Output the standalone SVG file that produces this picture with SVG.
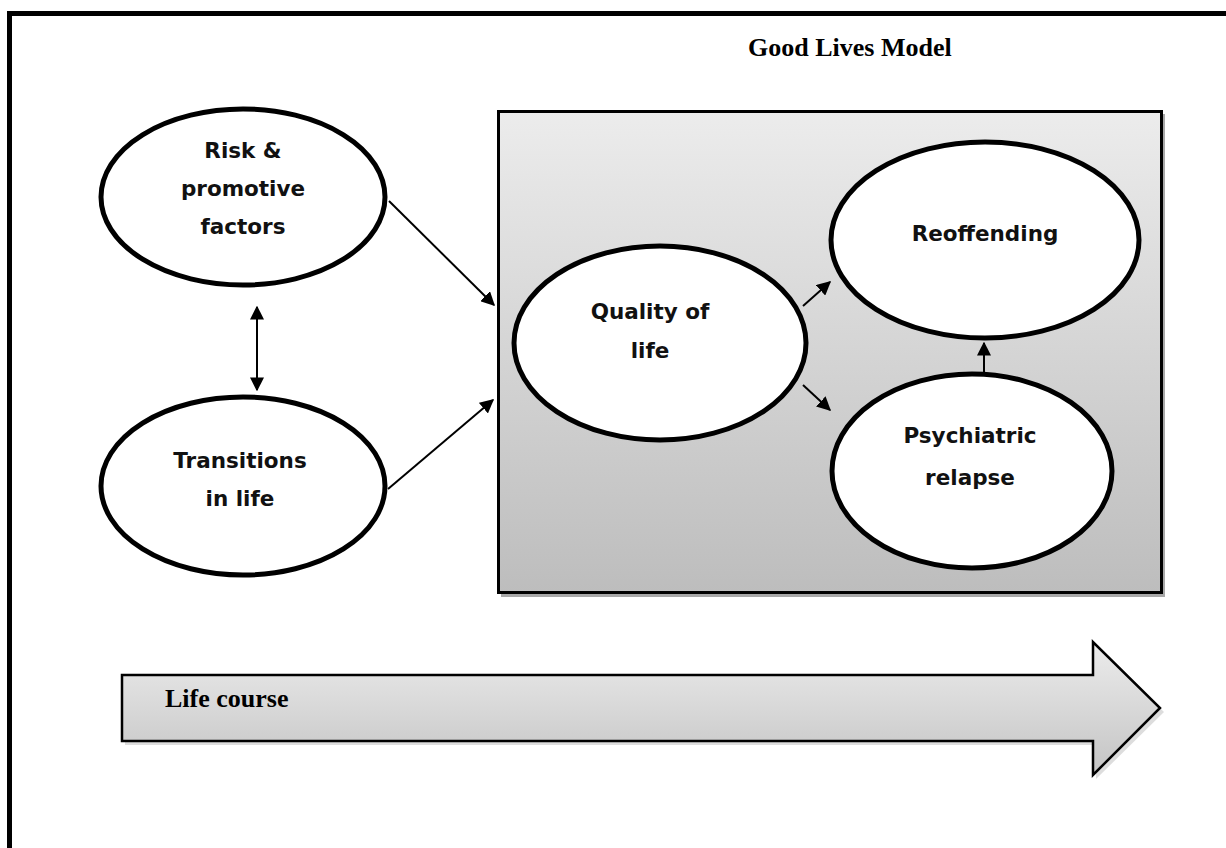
<svg xmlns="http://www.w3.org/2000/svg" width="1226" height="848" viewBox="0 0 1226 848">
<defs>
<linearGradient id="boxGrad" x1="0" y1="0" x2="0" y2="1">
<stop offset="0" stop-color="#ececec"/>
<stop offset="1" stop-color="#bdbdbd"/>
</linearGradient>
<linearGradient id="arrowGrad" x1="0" y1="0" x2="0" y2="1">
<stop offset="0" stop-color="#ececec"/>
<stop offset="1" stop-color="#c4c4c4"/>
</linearGradient>
<marker id="ahL" viewBox="0 0 10 10" refX="9" refY="5" markerWidth="14" markerHeight="14" markerUnits="userSpaceOnUse" orient="auto-start-reverse">
<path d="M0,0 L10,5 L0,10 Z" fill="#000"/>
</marker>
</defs>
<style>
.node{fill:#fff;stroke:#000;stroke-width:5}
.lbl{font-family:"DejaVu Sans",Verdana,sans-serif;font-weight:bold;font-size:21.5px;fill:#111;text-anchor:middle}
.ser{font-family:"Liberation Serif","Times New Roman",serif;font-weight:bold;font-size:26px;fill:#000}
.con{stroke:#000;stroke-width:2;fill:none}
</style>
<rect x="0" y="0" width="1226" height="848" fill="#fff"/>
<rect x="9.5" y="13.5" width="1240" height="860" fill="none" stroke="#000" stroke-width="5"/>
<text class="ser" x="748" y="56">Good Lives Model</text>
<g id="box">
<rect x="501" y="114" width="664" height="483" fill="#a8a8a8"/>
<rect x="498.5" y="111.5" width="663" height="481" fill="url(#boxGrad)" stroke="#000" stroke-width="3"/>
</g>
<g id="lifecourse">
<path d="M125,679 H1096 V646 L1164,712 L1096,779 V745 H125 Z" fill="#bbb" opacity="0.5"/>
<path d="M122,675 H1093 V642 L1160,708 L1093,775 V741 H122 Z" fill="url(#arrowGrad)" stroke="#000" stroke-width="2.5" stroke-linejoin="miter"/>
<text class="ser" x="165" y="707">Life course</text>
</g>
<g id="risk">
<ellipse class="node" cx="243" cy="197" rx="142" ry="88"/>
<text class="lbl" x="243" y="158">Risk &amp;</text>
<text class="lbl" x="243" y="196">promotive</text>
<text class="lbl" x="243" y="234">factors</text>
</g>
<g id="transitions">
<ellipse class="node" cx="243" cy="486" rx="142" ry="89"/>
<text class="lbl" x="240" y="468">Transitions</text>
<text class="lbl" x="240" y="506">in life</text>
</g>
<g id="quality">
<ellipse class="node" cx="660" cy="343" rx="146" ry="97"/>
<text class="lbl" x="650" y="319">Quality of</text>
<text class="lbl" x="650" y="358">life</text>
</g>
<g id="reoffending">
<ellipse class="node" cx="985" cy="240" rx="154" ry="98"/>
<text class="lbl" x="985" y="241">Reoffending</text>
</g>
<g id="psychiatric">
<ellipse class="node" cx="972" cy="471" rx="140" ry="97"/>
<text class="lbl" x="970" y="443">Psychiatric</text>
<text class="lbl" x="970" y="485">relapse</text>
</g>
<g id="connectors">
<line class="con" x1="389" y1="201" x2="494" y2="305" marker-end="url(#ahL)"/>
<line class="con" x1="388" y1="489" x2="493" y2="400" marker-end="url(#ahL)"/>
<line class="con" x1="257" y1="307" x2="257" y2="390" marker-start="url(#ahL)" marker-end="url(#ahL)"/>
<line class="con" x1="803" y1="306" x2="830" y2="282" marker-end="url(#ahL)"/>
<line class="con" x1="803" y1="385" x2="830" y2="410" marker-end="url(#ahL)"/>
<line class="con" x1="984" y1="374" x2="984" y2="343" marker-end="url(#ahL)"/>
</g>
</svg>
